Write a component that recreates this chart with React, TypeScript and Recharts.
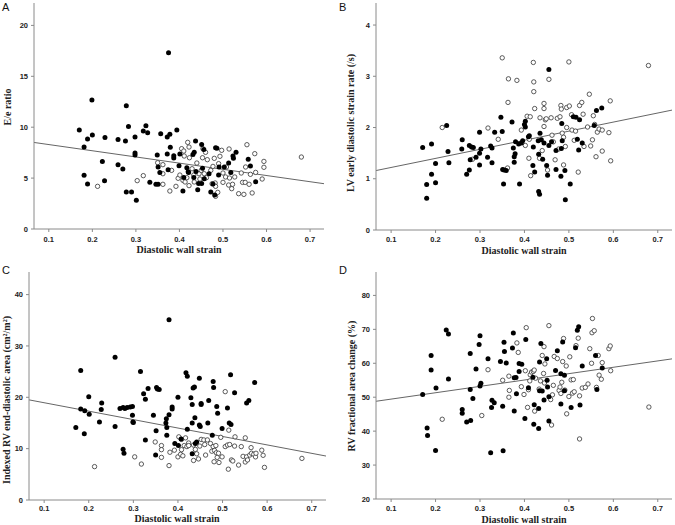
import { ScatterChart, Scatter, XAxis, YAxis, ReferenceLine } from 'recharts';

type Pt = [number, number];

const X_TICKS = [0.1, 0.2, 0.3, 0.4, 0.5, 0.6, 0.7];
const X_DOMAIN: [number, number] = [0.066, 0.732];
const X_TITLE = 'Diastolic wall strain';

// ---- Panel A: E/e ratio ----
const A_TICKS = [0, 5, 10, 15, 20];
const A_FIT: Pt[] = [[0.066, 8.5], [0.732, 4.45]];
const A_FILLED: Pt[] = [
    [0.170, 9.72], [0.181, 8.05], [0.181, 5.27], [0.189, 8.84], [0.189, 4.42], [0.199, 12.67], [0.200, 9.23],
    [0.223, 6.64], [0.229, 9.0], [0.228, 4.75], [0.259, 8.8], [0.259, 6.32], [0.270, 5.89], [0.278, 12.11],
    [0.276, 8.64], [0.278, 3.63], [0.283, 10.08], [0.290, 3.63], [0.298, 9.03], [0.298, 7.46], [0.298, 7.27],
    [0.301, 2.82], [0.323, 10.15], [0.317, 9.62], [0.327, 9.46], [0.332, 4.58], [0.346, 4.39], [0.351, 4.39],
    [0.349, 7.27], [0.351, 6.09], [0.355, 5.56], [0.357, 9.36], [0.375, 17.32], [0.372, 9.03], [0.378, 9.3],
    [0.374, 5.83], [0.372, 7.36], [0.379, 8.02], [0.387, 7.2], [0.387, 6.97], [0.394, 9.72], [0.401, 7.36],
    [0.399, 6.22], [0.408, 3.73], [0.410, 5.07], [0.417, 6.02], [0.420, 5.63], [0.421, 5.56], [0.431, 7.33],
    [0.434, 7.53], [0.437, 8.64], [0.433, 5.07], [0.438, 5.66], [0.442, 3.86], [0.444, 4.48], [0.451, 8.31],
    [0.456, 7.82], [0.453, 5.96], [0.451, 4.48], [0.457, 4.94], [0.468, 5.43], [0.472, 3.63], [0.477, 4.42],
    [0.481, 3.34], [0.483, 7.99], [0.486, 7.92], [0.490, 5.3], [0.491, 6.09], [0.503, 6.09], [0.513, 6.48],
    [0.518, 5.56], [0.523, 7.17], [0.524, 6.94], [0.530, 7.53], [0.558, 6.84], [0.563, 6.19], [0.575, 4.65],
];
const A_OPEN: Pt[] = [
    [0.212, 4.19], [0.303, 4.75], [0.317, 5.24], [0.350, 6.51], [0.362, 6.32], [0.362, 5.43], [0.378, 3.73],
    [0.382, 5.76], [0.392, 4.19], [0.397, 4.98], [0.401, 5.3], [0.405, 7.89], [0.410, 7.66], [0.411, 7.17],
    [0.408, 4.78], [0.413, 4.62], [0.417, 5.04], [0.419, 8.51], [0.422, 8.05], [0.423, 7.0], [0.422, 4.26],
    [0.429, 5.92], [0.433, 5.3], [0.434, 4.62], [0.440, 6.48], [0.445, 5.43], [0.447, 4.91], [0.450, 5.76],
    [0.453, 7.0], [0.454, 7.89], [0.457, 5.43], [0.460, 7.53], [0.462, 5.04], [0.464, 6.81], [0.472, 5.76],
    [0.475, 4.45], [0.477, 6.15], [0.480, 6.94], [0.482, 4.52], [0.483, 4.19], [0.483, 3.21], [0.488, 3.6],
    [0.490, 6.42], [0.493, 7.14], [0.497, 7.73], [0.500, 5.5], [0.500, 4.58], [0.506, 5.11], [0.508, 6.09],
    [0.513, 4.32], [0.514, 7.86], [0.515, 5.01], [0.520, 3.96], [0.522, 4.39], [0.527, 5.11], [0.536, 3.47],
    [0.542, 5.5], [0.545, 4.58], [0.548, 3.4], [0.551, 4.58], [0.552, 6.09], [0.555, 8.28], [0.560, 4.39],
    [0.563, 5.37], [0.567, 3.54], [0.573, 7.4], [0.575, 5.56], [0.590, 4.91], [0.594, 6.64], [0.594, 6.06],
    [0.680, 7.07], [0.362, 4.39],
];

// ---- Panel B: LV early diastolic strain rate ----
const B_TICKS = [0, 1, 2, 3, 4];
const B_FIT: Pt[] = [[0.066, 1.16], [0.732, 2.34]];
const B_FILLED: Pt[] = [
    [0.171, 1.61], [0.180, 0.62], [0.180, 0.89], [0.191, 1.68], [0.191, 1.09], [0.200, 1.3], [0.200, 0.92],
    [0.225, 2.04], [0.228, 1.53], [0.230, 1.31], [0.260, 1.76], [0.259, 1.58], [0.276, 1.65], [0.281, 1.62],
    [0.285, 1.61], [0.278, 1.37], [0.276, 1.17], [0.270, 1.09], [0.291, 1.42], [0.299, 1.91], [0.299, 1.5],
    [0.302, 1.58], [0.299, 1.27], [0.324, 1.64], [0.327, 1.6], [0.317, 1.42], [0.327, 1.31], [0.333, 1.91],
    [0.347, 2.2], [0.350, 1.92], [0.351, 1.18], [0.354, 1.17], [0.353, 0.9], [0.359, 1.16], [0.372, 2.11],
    [0.375, 1.6], [0.377, 1.43], [0.377, 1.32], [0.379, 1.49], [0.380, 1.72], [0.387, 1.68], [0.393, 1.7],
    [0.389, 0.9], [0.396, 1.74], [0.400, 2.06], [0.402, 2.12], [0.402, 2.01], [0.409, 1.82], [0.411, 1.84],
    [0.419, 1.26], [0.420, 1.62], [0.423, 1.13], [0.431, 1.74], [0.432, 1.48], [0.432, 0.75], [0.434, 0.7],
    [0.435, 1.89], [0.438, 1.76], [0.441, 1.38], [0.444, 1.7], [0.450, 1.26], [0.452, 1.07], [0.455, 1.65],
    [0.455, 3.13], [0.461, 1.72], [0.471, 1.55], [0.471, 1.18], [0.482, 1.05], [0.483, 1.59], [0.485, 1.74],
    [0.484, 2.08], [0.491, 1.16], [0.492, 0.59], [0.503, 0.9], [0.510, 2.21], [0.516, 2.2], [0.519, 1.77],
    [0.524, 2.15], [0.522, 1.56], [0.530, 1.7], [0.557, 2.04], [0.562, 2.33], [0.574, 2.38],
];
const B_OPEN: Pt[] = [
    [0.215, 2.0], [0.283, 1.38], [0.318, 1.99], [0.341, 1.77], [0.350, 3.36], [0.362, 1.21], [0.364, 2.95],
    [0.363, 2.49], [0.383, 2.92], [0.393, 1.95], [0.402, 1.65], [0.406, 2.22], [0.410, 1.4], [0.413, 2.21],
    [0.411, 1.77], [0.414, 1.06], [0.420, 3.27], [0.421, 2.89], [0.421, 2.7], [0.423, 2.37], [0.434, 1.4],
    [0.435, 2.19], [0.440, 1.55], [0.444, 2.47], [0.444, 2.37], [0.444, 2.02], [0.447, 2.15], [0.449, 2.17],
    [0.455, 2.94], [0.452, 1.17], [0.460, 2.19], [0.462, 1.85], [0.465, 1.72], [0.469, 1.37], [0.474, 2.18],
    [0.477, 1.58], [0.480, 2.21], [0.482, 2.43], [0.483, 2.36], [0.485, 1.89], [0.488, 1.81], [0.488, 1.27],
    [0.492, 1.63], [0.495, 2.0], [0.495, 2.39], [0.500, 3.28], [0.501, 2.42], [0.506, 2.25], [0.507, 1.95],
    [0.512, 1.75], [0.515, 1.93], [0.521, 1.13], [0.524, 2.43], [0.529, 2.49], [0.532, 2.26], [0.534, 1.63],
    [0.542, 2.01], [0.546, 2.65], [0.549, 1.64], [0.553, 1.76], [0.555, 2.23], [0.558, 2.06], [0.561, 1.43],
    [0.564, 1.91], [0.568, 1.97], [0.575, 1.95], [0.575, 1.54], [0.590, 1.9], [0.593, 2.52], [0.594, 1.35],
    [0.679, 3.21],
];

// ---- Panel C: Indexed RV end-diastolic area ----
const C_TICKS = [0, 10, 20, 30, 40];
const C_FIT: Pt[] = [[0.066, 19.5], [0.732, 8.56]];
const C_FILLED: Pt[] = [
    [0.171, 14.1], [0.182, 25.2], [0.182, 17.7], [0.191, 17.4], [0.190, 12.9], [0.200, 20.1], [0.201, 16.7],
    [0.224, 15.2], [0.229, 18.9], [0.228, 17.6], [0.259, 27.8], [0.259, 14.3], [0.270, 17.8], [0.277, 18.0],
    [0.281, 17.8], [0.277, 9.9], [0.279, 9.1], [0.286, 18.0], [0.293, 18.1], [0.298, 18.2], [0.298, 16.5],
    [0.299, 15.2], [0.300, 15.1], [0.316, 25.0], [0.323, 20.7], [0.327, 19.6], [0.333, 21.7], [0.327, 11.7],
    [0.345, 16.5], [0.352, 21.9], [0.354, 21.6], [0.358, 21.5], [0.351, 13.5], [0.350, 8.75], [0.373, 15.0],
    [0.374, 15.8], [0.375, 14.1], [0.375, 12.6], [0.380, 35.1], [0.380, 16.6], [0.387, 18.1], [0.387, 17.7],
    [0.393, 11.0], [0.400, 20.0], [0.401, 10.6], [0.407, 11.9], [0.418, 24.8], [0.421, 24.1], [0.421, 13.8],
    [0.429, 19.9], [0.432, 18.6], [0.432, 15.0], [0.434, 21.8], [0.438, 16.0], [0.437, 22.0], [0.432, 9.0],
    [0.439, 11.0], [0.442, 11.3], [0.448, 23.7], [0.448, 14.6], [0.450, 14.3], [0.452, 18.6], [0.452, 18.8],
    [0.467, 15.0], [0.469, 19.4], [0.479, 23.1], [0.480, 21.9], [0.477, 12.6], [0.487, 18.2], [0.489, 16.9],
    [0.499, 13.9], [0.511, 17.9], [0.515, 15.0], [0.519, 14.7], [0.518, 24.4], [0.527, 20.9], [0.554, 18.9],
    [0.559, 19.4], [0.572, 22.9],
];
const C_OPEN: Pt[] = [
    [0.213, 6.5], [0.303, 8.4], [0.318, 7.0], [0.349, 11.3], [0.363, 10.6], [0.363, 9.8], [0.363, 8.3],
    [0.380, 6.7], [0.382, 9.3], [0.392, 9.7], [0.400, 8.4], [0.402, 12.3], [0.406, 8.9], [0.408, 9.8],
    [0.408, 11.8], [0.411, 8.6], [0.414, 10.6], [0.417, 12.1], [0.420, 10.4], [0.424, 11.1], [0.424, 10.6],
    [0.435, 7.7], [0.435, 10.7], [0.439, 9.85], [0.442, 9.0], [0.446, 8.0], [0.449, 10.5], [0.452, 11.8],
    [0.458, 11.7], [0.460, 10.8], [0.462, 8.75], [0.466, 11.7], [0.473, 11.0], [0.476, 9.5], [0.479, 10.4],
    [0.481, 7.45], [0.482, 9.65], [0.485, 10.6], [0.486, 9.2], [0.488, 8.3], [0.491, 9.1], [0.492, 7.3],
    [0.496, 12.2], [0.499, 8.4], [0.506, 10.4], [0.506, 21.1], [0.511, 10.7], [0.513, 6.0], [0.514, 13.6],
    [0.516, 10.8], [0.520, 7.8], [0.523, 7.6], [0.527, 10.5], [0.528, 12.3], [0.536, 6.8], [0.542, 10.4],
    [0.546, 8.5], [0.551, 12.1], [0.551, 7.4], [0.554, 8.4], [0.556, 7.8], [0.561, 8.75], [0.564, 10.2],
    [0.565, 9.1], [0.570, 8.9], [0.574, 8.4], [0.575, 9.1], [0.588, 9.7], [0.591, 8.7], [0.594, 6.35],
    [0.678, 8.1],
];

// ---- Panel D: RV fractional area change ----
const D_TICKS = [20, 30, 40, 50, 60, 70, 80];
const D_FIT: Pt[] = [[0.066, 48.8], [0.732, 61.3]];
const D_FILLED: Pt[] = [
    [0.171, 50.8], [0.181, 40.9], [0.182, 38.7], [0.190, 62.3], [0.190, 58.0], [0.200, 34.3], [0.201, 52.7],
    [0.224, 69.8], [0.229, 68.6], [0.229, 55.4], [0.260, 46.4], [0.260, 45.3], [0.270, 42.7], [0.278, 62.9],
    [0.278, 52.3], [0.279, 43.1], [0.284, 49.6], [0.291, 58.3], [0.298, 65.5], [0.300, 68.1], [0.300, 53.3],
    [0.302, 54.1], [0.318, 61.3], [0.324, 33.6], [0.326, 47.0], [0.327, 49.1], [0.332, 48.4], [0.346, 60.5],
    [0.351, 47.3], [0.354, 66.2], [0.355, 63.5], [0.352, 34.2], [0.359, 60.1], [0.373, 64.5], [0.375, 68.9],
    [0.377, 45.9], [0.377, 55.7], [0.381, 55.8], [0.382, 51.0], [0.388, 57.6], [0.388, 59.9], [0.394, 59.7],
    [0.401, 43.7], [0.403, 67.0], [0.409, 52.8], [0.419, 55.9], [0.421, 42.0], [0.422, 47.8], [0.432, 40.8],
    [0.432, 46.7], [0.434, 51.9], [0.434, 60.4], [0.437, 65.8], [0.440, 51.8], [0.444, 49.2], [0.450, 61.3],
    [0.451, 55.0], [0.452, 53.0], [0.455, 43.0], [0.455, 50.1], [0.470, 57.9], [0.474, 63.7], [0.482, 56.9],
    [0.482, 48.0], [0.486, 66.3], [0.490, 51.9], [0.490, 56.5], [0.505, 47.0], [0.515, 64.6], [0.519, 69.7],
    [0.522, 70.8], [0.525, 47.7], [0.530, 59.2], [0.560, 62.3], [0.563, 52.3], [0.575, 58.6],
];
const D_OPEN: Pt[] = [
    [0.215, 43.5], [0.304, 44.6], [0.318, 58.1], [0.351, 55.0], [0.365, 50.0], [0.365, 56.2], [0.366, 52.0],
    [0.383, 66.0], [0.386, 63.2], [0.393, 53.1], [0.399, 50.8], [0.402, 57.8], [0.404, 70.5], [0.407, 47.0],
    [0.409, 52.2], [0.412, 54.8], [0.413, 56.6], [0.416, 57.4], [0.420, 57.6], [0.422, 58.0], [0.423, 45.9],
    [0.425, 55.6], [0.433, 52.4], [0.436, 54.8], [0.440, 62.3], [0.443, 57.0], [0.444, 64.9], [0.445, 54.2],
    [0.446, 59.8], [0.455, 71.1], [0.459, 49.3], [0.461, 41.8], [0.463, 50.7], [0.465, 53.5], [0.467, 62.0],
    [0.474, 61.4], [0.478, 52.0], [0.480, 53.0], [0.482, 51.1], [0.484, 54.4], [0.486, 60.5], [0.488, 67.3],
    [0.491, 52.1], [0.494, 59.2], [0.495, 45.1], [0.500, 50.2], [0.502, 61.9], [0.505, 55.1], [0.508, 51.2],
    [0.510, 55.2], [0.512, 51.6], [0.516, 65.2], [0.521, 67.4], [0.524, 37.7], [0.524, 50.4], [0.530, 52.7],
    [0.537, 52.9], [0.543, 53.9], [0.547, 64.3], [0.551, 60.0], [0.552, 69.0], [0.553, 73.2], [0.557, 69.6],
    [0.562, 52.9], [0.566, 62.3], [0.568, 56.5], [0.573, 55.3], [0.575, 60.2], [0.590, 64.3], [0.593, 65.1],
    [0.594, 57.8], [0.680, 47.1],
];

const toObj = (pts: Pt[]) => pts.map(([x, y]) => ({ x, y }));

const AXIS_COLOR = '#8a8a8a';
const TICK_FONT = { fontSize: 7.5, fontWeight: 700, fill: '#222', fontFamily: 'Liberation Sans, Arial, sans-serif' };
const TITLE_FONT = 'Liberation Serif, Times New Roman, serif';

const FilledDot = (p: any) => <circle cx={p.cx} cy={p.cy} r={2.5} fill="#000" />;
const OpenDot = (p: any) => (
    <circle cx={p.cx} cy={p.cy} r={2.2} fill="#fff" stroke="#333" strokeWidth={0.8} />
);

interface PanelProps {
    letter: string;
    yTitle: string;
    yDomain: [number, number];
    yTicks: number[];
    filled: Pt[];
    open: Pt[];
    fit: Pt[];
    left: number;
    top: number;
    width: number;
    height: number;
    yAxisWidth: number;
    marginTop: number;
    marginRight: number;
    xAxisHeight: number;
    xTickMargin: number;
    yTitleX: number;
    yTitleY: number;
    xTitleX: number;
    xTitleY: number;
    letterY: number;
}

function Panel(p: PanelProps) {
    return (
        <div style={{ position: 'absolute', left: p.left, top: p.top, width: p.width, height: p.height }}>
            <ScatterChart
                width={p.width}
                height={p.height}
                margin={{ top: p.marginTop, right: p.marginRight, bottom: 0, left: 0 }}
            >
                <XAxis
                    type="number"
                    dataKey="x"
                    domain={X_DOMAIN}
                    ticks={X_TICKS}
                    allowDataOverflow
                    height={p.xAxisHeight}
                    tickSize={3}
                    tickMargin={p.xTickMargin}
                    tick={TICK_FONT}
                    tickFormatter={(v) => v.toFixed(1)}
                    axisLine={{ stroke: AXIS_COLOR }}
                    tickLine={{ stroke: AXIS_COLOR }}
                />
                <YAxis
                    type="number"
                    dataKey="y"
                    domain={p.yDomain}
                    ticks={p.yTicks}
                    allowDataOverflow
                    width={p.yAxisWidth}
                    tickSize={3}
                    tickMargin={3}
                    tick={TICK_FONT}
                    axisLine={{ stroke: AXIS_COLOR }}
                    tickLine={{ stroke: AXIS_COLOR }}
                />
                <ReferenceLine
                    segment={[{ x: p.fit[0][0], y: p.fit[0][1] }, { x: p.fit[1][0], y: p.fit[1][1] }]}
                    stroke="#666"
                    strokeWidth={1}
                />
                <Scatter data={toObj(p.open)} shape={OpenDot} isAnimationActive={false} />
                <Scatter data={toObj(p.filled)} shape={FilledDot} isAnimationActive={false} />
            </ScatterChart>
            <svg
                width={p.width}
                height={p.height}
                style={{ position: 'absolute', left: 0, top: 0, pointerEvents: 'none' }}
            >
                <text x={2} y={p.letterY} fontSize={11} fill="#111" fontFamily="Liberation Sans, Arial, sans-serif">
                    {p.letter}
                </text>
                <text
                    x={p.xTitleX}
                    y={p.xTitleY}
                    textAnchor="middle"
                    fontSize={10}
                    fontWeight={700}
                    fill="#222"
                    fontFamily={TITLE_FONT}
                >
                    {X_TITLE}
                </text>
                <text
                    transform={`translate(${p.yTitleX}, ${p.yTitleY}) rotate(-90)`}
                    textAnchor="middle"
                    fontSize={10}
                    fontWeight={700}
                    fill="#222"
                    fontFamily={TITLE_FONT}
                >
                    {p.yTitle}
                </text>
            </svg>
        </div>
    );
}

export default function App() {
    return (
        <div style={{ position: 'absolute', left: 0, top: 0, width: 675, height: 525, background: '#fff' }}>
            <Panel
                letter="A" yTitle="E/e ratio" yDomain={[0, 22.2]} yTicks={A_TICKS}
                filled={A_FILLED} open={A_OPEN} fit={A_FIT}
                left={0} top={0} width={337} height={262}
                yAxisWidth={34} marginTop={3} marginRight={13} xAxisHeight={33} xTickMargin={5}
                yTitleX={11} yTitleY={107} xTitleX={179} xTitleY={253} letterY={11}
            />
            <Panel
                letter="B" yTitle="LV early diastolic strain rate (/s)" yDomain={[0, 4.43]} yTicks={B_TICKS}
                filled={B_FILLED} open={B_OPEN} fit={B_FIT}
                left={337} top={0} width={338} height={262}
                yAxisWidth={39} marginTop={3} marginRight={3} xAxisHeight={32} xTickMargin={4}
                yTitleX={17} yTitleY={123} xTitleX={187} xTitleY={253.5} letterY={11}
            />
            <Panel
                letter="C" yTitle="Indexed RV end-diastolic area (cm²/m²)" yDomain={[0, 44.4]} yTicks={C_TICKS}
                filled={C_FILLED} open={C_OPEN} fit={C_FIT}
                left={0} top={262} width={337} height={263}
                yAxisWidth={29} marginTop={10} marginRight={11} xAxisHeight={25} xTickMargin={3}
                yTitleX={10} yTitleY={138} xTitleX={177} xTitleY={260} letterY={12}
            />
            <Panel
                letter="D" yTitle="RV fractional area change (%)" yDomain={[20, 86.9]} yTicks={D_TICKS}
                filled={D_FILLED} open={D_OPEN} fit={D_FIT}
                left={337} top={262} width={338} height={263}
                yAxisWidth={39} marginTop={10} marginRight={3} xAxisHeight={26} xTickMargin={4}
                yTitleX={18} yTitleY={124} xTitleX={187} xTitleY={260.5} letterY={12}
            />
        </div>
    );
}
